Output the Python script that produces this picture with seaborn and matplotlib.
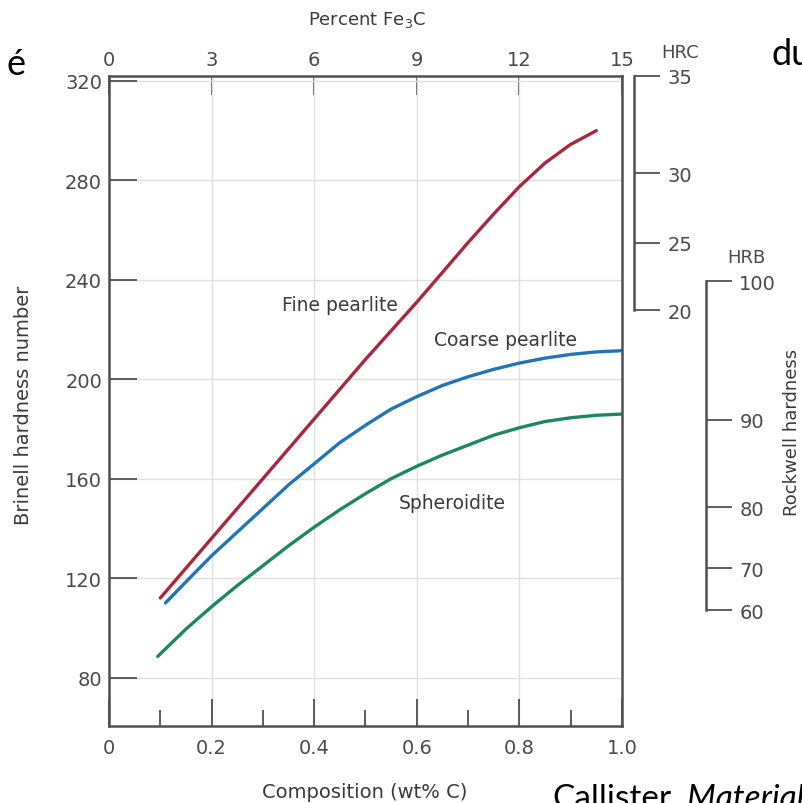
import numpy as np
import pandas as pd
import matplotlib
matplotlib.use("Agg")
import matplotlib.pyplot as plt
import seaborn as sns

# ---------------- data ----------------
fine_x = [0.10, 0.15, 0.20, 0.25, 0.30, 0.35, 0.40, 0.45, 0.50, 0.55, 0.60, 0.65,
          0.70, 0.75, 0.80, 0.85, 0.90, 0.95]
fine_y = [112, 124, 136, 148, 160, 172, 184, 196, 208, 219.5, 231, 243,
          255, 266.5, 277.5, 287, 294.5, 300]

coarse_x = [0.11, 0.15, 0.20, 0.25, 0.30, 0.35, 0.40, 0.45, 0.50, 0.55, 0.60, 0.65,
            0.70, 0.75, 0.80, 0.85, 0.90, 0.95, 1.00]
coarse_y = [110, 118.5, 129, 138.5, 148, 157.5, 166, 174.5, 181.5, 188, 193, 197.5,
            201, 204, 206.5, 208.5, 210, 211, 211.5]

sph_x = [0.095, 0.125, 0.15, 0.20, 0.25, 0.30, 0.35, 0.40, 0.45, 0.50, 0.55, 0.60,
         0.65, 0.70, 0.75, 0.80, 0.85, 0.90, 0.95, 1.00]
sph_y = [88.5, 94.5, 99.5, 108.5, 117, 125, 133, 140.5, 147.5, 154, 160, 165,
         169.5, 173.5, 177.5, 180.5, 183, 184.5, 185.5, 186]

series_names = ["Fine pearlite", "Coarse pearlite", "Spheroidite"]
series_colors = ["#a8283a", "#2274b5", "#1f8663"]

brinell_ticks = [80, 120, 160, 200, 240, 280, 320]
carbon_major = [0, 0.2, 0.4, 0.6, 0.8, 1.0]
carbon_labels = ["0", "0.2", "0.4", "0.6", "0.8", "1.0"]
carbon_minor = [0.1, 0.3, 0.5, 0.7, 0.9]
fe3c_ticks = [0, 3, 6, 9, 12, 15]

hrc_values = [35, 30, 25, 20]
hrc_brinell = [322, 282.8, 254.9, 227.8]
hrb_values = [100, 90, 80, 70, 60]
hrb_brinell = [239.5, 183.8, 148.6, 124.0, 107.0]

label_pos = {"Fine pearlite": (0.45, 230), "Coarse pearlite": (0.772, 216), "Spheroidite": (0.67, 150.5)}

df = pd.concat([
    pd.DataFrame({"carbon": fine_x, "hb": fine_y, "micro": series_names[0]}),
    pd.DataFrame({"carbon": coarse_x, "hb": coarse_y, "micro": series_names[1]}),
    pd.DataFrame({"carbon": sph_x, "hb": sph_y, "micro": series_names[2]}),
], ignore_index=True)

# ---------------- style ----------------
sns.set_theme(style="white")
plt.rcParams["font.family"] = ["DejaVu Sans"]
tick_c = "#4a4a4a"
spine_c = "#505050"
text_c = "#3a3a3a"

W, H = 803, 804
fig = plt.figure(figsize=(W / 100, H / 100), dpi=100)
fig.patch.set_facecolor("white")

def fx(px):
    return px / W

def fy(py):
    return 1 - py / H

ax_l, ax_r, ax_t, ax_b = 109, 622, 77, 727
ax = fig.add_axes([fx(ax_l), fy(ax_b), (ax_r - ax_l) / W, (ax_b - ax_t) / H])
ylim = (60.5, 322)

sns.lineplot(data=df, x="carbon", y="hb", hue="micro", hue_order=series_names,
             palette=series_colors, estimator=None, sort=True, legend=False,
             linewidth=2.4, ax=ax)
for ln in ax.lines:
    ln.set_solid_joinstyle("round")
    ln.set_solid_capstyle("round")

ax.set_xlim(0, 1.0)
ax.set_ylim(*ylim)
ax.set_xlabel("")
ax.set_ylabel("")

ax.set_xticks(carbon_major)
ax.set_xticklabels(carbon_labels)
ax.set_xticks(carbon_minor, minor=True)
ax.set_yticks(brinell_ticks)
ax.set_yticklabels([str(v) for v in brinell_ticks])

ax.grid(True, which="major", color="#e0e0e0", linewidth=1.0)
ax.set_axisbelow(True)

for s in ax.spines.values():
    s.set_color(spine_c)
    s.set_linewidth(1.8)

ax.tick_params(axis="x", which="major", direction="in", length=19.5, width=1.3,
               color=spine_c, labelsize=14, labelcolor=tick_c, pad=9, bottom=True, top=False)
ax.tick_params(axis="x", which="minor", direction="in", length=11.5, width=1.3,
               color=spine_c, bottom=True, top=False)
ax.tick_params(axis="y", which="major", direction="in", length=20, width=1.3,
               color=spine_c, labelsize=14, labelcolor=tick_c, pad=5, left=True, right=False)

# top axis: percent Fe3C
sec = ax.secondary_xaxis("top", functions=(lambda c: c * 15.0, lambda p: p / 15.0))
sec.set_xticks(fe3c_ticks)
sec.set_xticklabels([str(v) for v in fe3c_ticks])
sec.tick_params(axis="x", direction="in", length=14, width=1.3, color=spine_c,
                labelsize=14, labelcolor=tick_c, pad=5)
sec.spines["top"].set_visible(False)

# curve labels
for name in series_names:
    x, y = label_pos[name]
    ax.text(x, y, name, ha="center", va="center", fontsize=13.5, color=text_c)

# Rockwell scales (HRC, HRB)
def side_scale(right_px, tick_pos, tick_vals, title, title_px_offset):
    a = fig.add_axes([fx(right_px - 10), fy(ax_b), 10 / W, (ax_b - ax_t) / H])
    a.set_ylim(*ylim)
    a.patch.set_visible(False)
    for k in ["left", "top", "bottom"]:
        a.spines[k].set_visible(False)
    a.spines["right"].set_color(spine_c)
    a.spines["right"].set_linewidth(1.8)
    a.spines["right"].set_bounds(min(tick_pos), max(tick_pos))
    a.xaxis.set_visible(False)
    a.yaxis.tick_right()
    a.set_yticks(tick_pos)
    a.set_yticklabels([str(v) for v in tick_vals])
    a.tick_params(axis="y", direction="out", length=19, width=1.3, color=spine_c,
                  labelsize=14, labelcolor=tick_c, pad=5, left=False, right=True)
    a.annotate(title, xy=(1, max(tick_pos)), xycoords=("axes fraction", "data"),
               xytext=(title_px_offset, 17), textcoords="offset points",
               ha="center", va="center", fontsize=13, color=tick_c)
    return a

side_scale(634, hrc_brinell, hrc_values, "HRC", 33)
side_scale(706, hrb_brinell, hrb_values, "HRB", 29)

# axis titles
fig.text(fx(367), fy(20), "Percent Fe$_3$C", ha="center", va="center", fontsize=13, color=text_c)
fig.text(fx(365), fy(793), "Composition (wt% C)", ha="center", va="center", fontsize=14, color=text_c)
fig.text(fx(24), fy(405), "Brinell hardness number", ha="center", va="center",
         rotation=90, fontsize=14, color=text_c)
fig.text(fx(792), fy(432), "Rockwell hardness", ha="center", va="center",
         rotation=90, fontsize=13, color=text_c)

# slide remnants
fam = ["Lato", "DejaVu Sans"]
fig.text(fx(7), fy(75), "é", ha="left", va="baseline", fontsize=26, color="black", family=fam)
fig.text(fx(772), fy(65), "du", ha="left", va="baseline", fontsize=26, color="black", family=fam)
t1 = fig.text(fx(552), fy(808), "Callister,", ha="left", va="baseline", fontsize=24,
              color="black", family=fam)
renderer = fig.canvas.get_renderer()
bb = t1.get_window_extent(renderer=renderer)
fig.text((bb.x1 + 8) / W, fy(808), "Materials Science", ha="left", va="baseline", fontsize=24,
         color="black", style="italic", family=fam)

fig.savefig("out.png", dpi=100, facecolor="white")
